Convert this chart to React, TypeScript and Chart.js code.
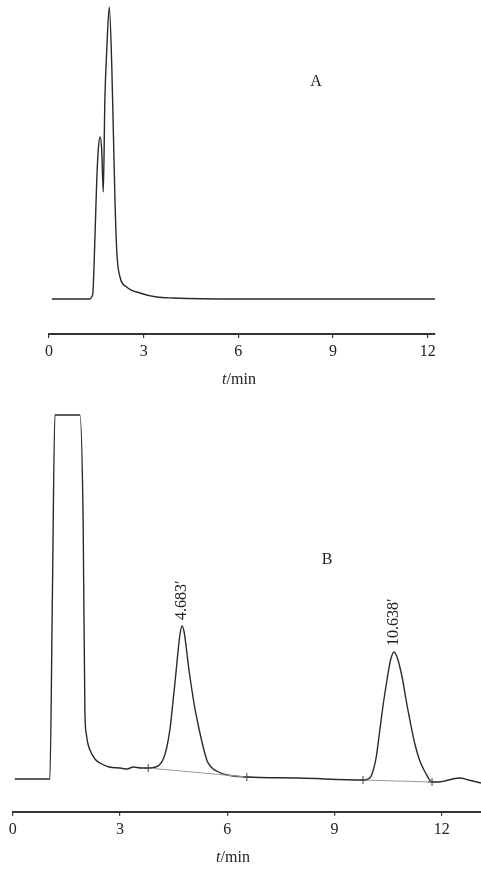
import React, { useEffect, useRef } from 'react';
import { Chart, registerables } from 'chart.js';

Chart.register(...registerables);

// ---------- data ----------
const tickValues = [0, 3, 6, 9, 12];

// Chromatogram A (time in min, detector signal in arbitrary units)
const timeA = [0.09, 1.3, 1.35, 1.39, 1.46, 1.51, 1.56, 1.62, 1.67, 1.72, 1.77, 1.83, 1.91, 1.99, 2.04, 2.09, 2.15, 2.25, 2.46, 2.88, 3.41, 3.93, 6.0, 9.0, 12.23];
const signalA = [0, 0, 2, 6, 66, 116, 149, 162, 149, 107, 199, 249, 292, 232, 166, 99, 46, 22, 12, 6, 2, 1, 0, 0, 0];

// Chromatogram B
const timeB = [0.06, 1.02, 1.04, 1.11, 1.18, 1.24, 1.88, 1.97, 2.02, 2.06, 2.1, 2.16, 2.3, 2.44, 2.7, 3.0, 3.2, 3.37, 3.6, 3.79, 4.0, 4.1, 4.2, 4.3, 4.4, 4.48, 4.55, 4.62, 4.68, 4.74, 4.8, 4.86, 4.92, 5.0, 5.08, 5.16, 5.25, 5.35, 5.44, 5.55, 5.7, 6.0, 6.55, 8.0, 9.8, 9.99, 10.08, 10.17, 10.27, 10.37, 10.47, 10.57, 10.67, 10.77, 10.85, 10.92, 11.0, 11.11, 11.25, 11.39, 11.55, 11.73, 11.9, 12.09, 12.3, 12.51, 12.75, 13.1];
const signalB = [0, 0, 0, 182, 364, 364, 364, 259, 66, 45, 36, 29, 20, 16, 12, 11, 10, 12, 11, 11, 12, 14, 19, 30, 50, 76, 100, 126, 145, 153, 146, 130, 112, 92, 74, 59, 44, 29, 18, 12, 8, 4, 2, 1, -1, 1, 8, 22, 49, 76, 99, 119, 127, 120, 109, 97, 80, 59, 35, 18, 6, -3, -3, -2, 0, 1, -1, -4];

// integration baselines of chromatogram B
const integrationStartT = [3.79, 9.8];
const integrationEndT = [6.55, 11.73];
const integrationStartY = [11, -1];
const integrationEndY = [2, -3];

// peak retention-time labels of chromatogram B
const peakLabelTimes = [4.74, 10.67];
const peakLabelSignals = [153, 127];
const peakLabelTexts = ['4.683\u2032', '10.638\u2032'];

const FONT = '"Liberation Serif", "Times New Roman", serif';

const annotatePlugin = {
  id: 'annotate',
  afterDraw(chart: any, _args: any, o: any) {
    const ctx = chart.ctx;
    const area = chart.chartArea;
    const xs = chart.scales.x;
    const ys = chart.scales.y;
    ctx.save();
    ctx.fillStyle = '#222';
    // axis title: t (italic) /min
    ctx.textBaseline = 'middle';
    ctx.textAlign = 'left';
    const ty = area.bottom + o.titleOffset;
    ctx.font = `italic 16px ${FONT}`;
    const w1 = ctx.measureText('t').width;
    ctx.font = `16px ${FONT}`;
    const w2 = ctx.measureText('/min').width;
    const tx = o.titleX - (w1 + w2) / 2;
    ctx.font = `italic 16px ${FONT}`;
    ctx.fillText('t', tx, ty);
    ctx.font = `16px ${FONT}`;
    ctx.fillText('/min', tx + w1, ty);
    // panel letter
    ctx.textAlign = 'center';
    ctx.font = `16px ${FONT}`;
    ctx.fillText(o.panel, o.panelX, o.panelY);
    // peak labels
    (o.peaks || []).forEach((p: any) => {
      const px = xs.getPixelForValue(p.t);
      const py = ys.getPixelForValue(p.v);
      ctx.save();
      ctx.translate(px, py - 6);
      ctx.rotate(-Math.PI / 2);
      ctx.textAlign = 'left';
      ctx.textBaseline = 'middle';
      ctx.font = `16px ${FONT}`;
      ctx.fillText(p.text, 0, 0);
      ctx.restore();
    });
    ctx.restore();
  },
};

function xScale(min: number, max: number, height: number) {
  return {
    type: 'linear',
    min,
    max,
    afterBuildTicks: (axis: any) => {
      axis.ticks = tickValues.map((v) => ({ value: v }));
    },
    afterFit: (axis: any) => {
      axis.height = height;
    },
    border: { display: true, color: '#333', width: 2 },
    grid: { display: true, drawOnChartArea: false, drawTicks: true, tickLength: 4, color: '#333', lineWidth: 1.2 },
    ticks: { color: '#222', padding: 4, maxRotation: 0, font: { family: FONT, size: 16 } },
  };
}

function useChart(ref: any, config: any) {
  useEffect(() => {
    const chart = new Chart(ref.current, config);
    return () => chart.destroy();
  }, []);
}

function ChartA() {
  const ref = useRef<HTMLCanvasElement>(null);
  useChart(ref, {
    type: 'line',
    data: {
      datasets: [
        {
          data: timeA.map((t, i) => ({ x: t, y: signalA[i] })),
          borderColor: '#2a2a2a',
          borderWidth: 1.4,
          pointRadius: 0,
          cubicInterpolationMode: 'monotone',
        },
      ],
    },
    options: {
      responsive: false,
      animation: false,
      layout: { autoPadding: false, padding: { left: 49, right: 46, top: 4, bottom: 0 } },
      plugins: {
        legend: { display: false },
        tooltip: { enabled: false },
        annotate: { titleOffset: 46, titleX: 239, panel: 'A', panelX: 316, panelY: 82, peaks: [] },
      },
      scales: {
        x: xScale(0, 12.23, 66),
        y: { type: 'linear', display: false, min: -35, max: 295 },
      },
    },
    plugins: [annotatePlugin],
  });
  return <canvas ref={ref} width={481} height={400} style={{ display: 'block' }} />;
}

function ChartB() {
  const ref = useRef<HTMLCanvasElement>(null);
  const baselineSets = integrationStartT.map((t0, i) => ({
    data: [
      { x: t0, y: integrationStartY[i] },
      { x: integrationEndT[i], y: integrationEndY[i] },
    ],
    borderColor: '#9a9a9a',
    borderWidth: 1.2,
    pointStyle: 'cross',
    pointRadius: 4,
    pointBorderColor: '#444',
    pointBorderWidth: 1,
    tension: 0,
  }));
  useChart(ref, {
    type: 'line',
    data: {
      datasets: [
        ...baselineSets,
        {
          data: timeB.map((t, i) => ({ x: t, y: signalB[i] })),
          borderColor: '#2a2a2a',
          borderWidth: 1.4,
          pointRadius: 0,
          cubicInterpolationMode: 'monotone',
        },
      ],
    },
    options: {
      responsive: false,
      animation: false,
      layout: { autoPadding: false, padding: { left: 12.7, right: 0, top: 5, bottom: 0 } },
      plugins: {
        legend: { display: false },
        tooltip: { enabled: false },
        annotate: {
          titleOffset: 46,
          titleX: 233,
          panel: 'B',
          panelX: 327,
          panelY: 160,
          peaks: peakLabelTimes.map((t, i) => ({ t, v: peakLabelSignals[i], text: peakLabelTexts[i] })),
        },
      },
      scales: {
        x: xScale(0, 13.1, 57.3),
        y: { type: 'linear', display: false, min: -32.7, max: 374 },
      },
    },
    plugins: [annotatePlugin],
  });
  return <canvas ref={ref} width={481} height={469} style={{ display: 'block' }} />;
}

export default function App() {
  return (
    <div style={{ position: 'absolute', left: 0, top: 0, width: 481, height: 869, background: '#fff' }}>
      <ChartA />
      <ChartB />
    </div>
  );
}
